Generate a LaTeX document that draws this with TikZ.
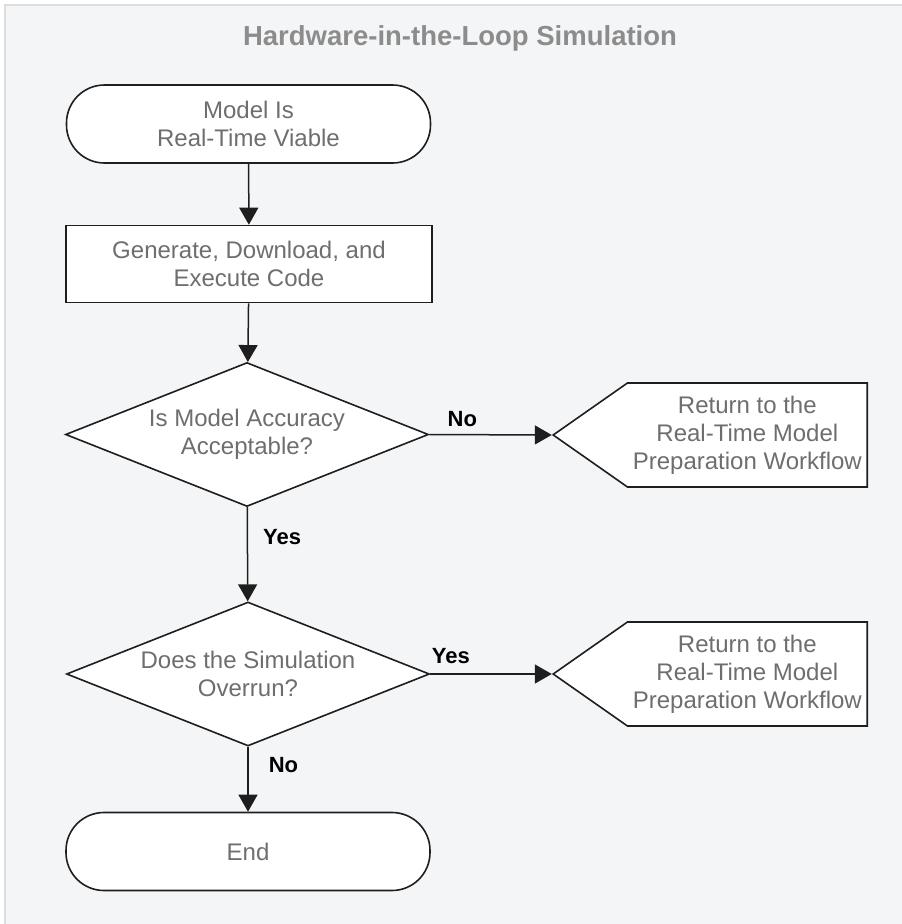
\documentclass[tikz,border=0pt]{standalone}
\usepackage{fontspec}
\setmainfont{Liberation Sans}
\usetikzlibrary{shapes.geometric, shapes.symbols, arrows.meta}
\definecolor{panelbg}{HTML}{F4F5F7}
\definecolor{panelline}{HTML}{DDDDDD}
\definecolor{txtgray}{HTML}{6E6E6E}
\definecolor{titlegray}{HTML}{8C8C8C}
\definecolor{edgeblack}{HTML}{1E1E1E}
\tikzset{
  every node/.style={font=\fontsize{24}{28}\selectfont, text=txtgray, align=center},
  terminal/.style={draw=edgeblack, fill=white, line width=1.6pt, rounded corners=38pt,
    minimum width=364pt, minimum height=78pt, inner sep=0pt},
  process/.style={draw=edgeblack, fill=white, line width=1.6pt,
    minimum width=366pt, minimum height=77pt, inner sep=0pt},
  decision/.style={draw=edgeblack, fill=white, line width=1.6pt, diamond, aspect=2.5,
    minimum width=363pt, minimum height=144pt, inner sep=0pt},
  goback/.style={draw=edgeblack, fill=white, line width=1.6pt, signal, signal to=west,
    signal pointer angle=70, minimum width=314pt, minimum height=104pt, inner sep=0pt},
  flow/.style={draw=edgeblack, line width=1.5pt, -{Triangle[length=17pt,width=19pt]}},
  answer/.style={font=\fontsize{22}{26}\selectfont\bfseries, text=black, inner sep=0pt}
}
\begin{document}
\begin{tikzpicture}[x=1pt, y=-1pt]
% page and panel
\useasboundingbox (0,0) rectangle (902,924);
\fill[white] (0,0) rectangle (902,924);
\filldraw[fill=panelbg, draw=panelline, line width=1.5pt] (5,5) rectangle (910,930);
\node[font=\fontsize{27.5}{32}\selectfont\bfseries, text=titlegray, anchor=base]
  (title) at (460,45) {Hardware-in-the-Loop Simulation};
% the main column of the flow
\node[terminal] (start) at (248.5,124) {Model Is\\Real-Time Viable};
\node[process] (gen) at (249,264) {Generate, Download, and\\Execute Code};
\node[decision] (acc) at (247,434.5) {Is Model Accuracy\\Acceptable?};
\node[decision] (over) at (248,674) {Does the Simulation\\Overrun?};
\node[terminal] (end) at (248,851.5) {End};
% the ways back on the right
\node[goback, anchor=east] (back1) at (868,435) {Return to the\\Real-Time Model\\Preparation Workflow};
\node[goback, anchor=east] (back2) at (868,674) {Return to the\\Real-Time Model\\Preparation Workflow};
% connectors
\draw[flow] (start) -- (gen);
\draw[flow] (gen) -- (acc);
\draw[flow] (acc.east) -- (back1.west)
  node[answer, pos=.27, anchor=base, yshift=8pt] {No};
\draw[flow] (acc) -- (over)
  node[answer, pos=.40, anchor=base west, xshift=15pt] {Yes};
\draw[flow] (over.east) -- (back2.west)
  node[answer, pos=.17, anchor=base, yshift=11pt] {Yes};
\draw[flow] (over) -- (end)
  node[answer, pos=.39, anchor=base west, xshift=20pt] {No};
\end{tikzpicture}
\end{document}
